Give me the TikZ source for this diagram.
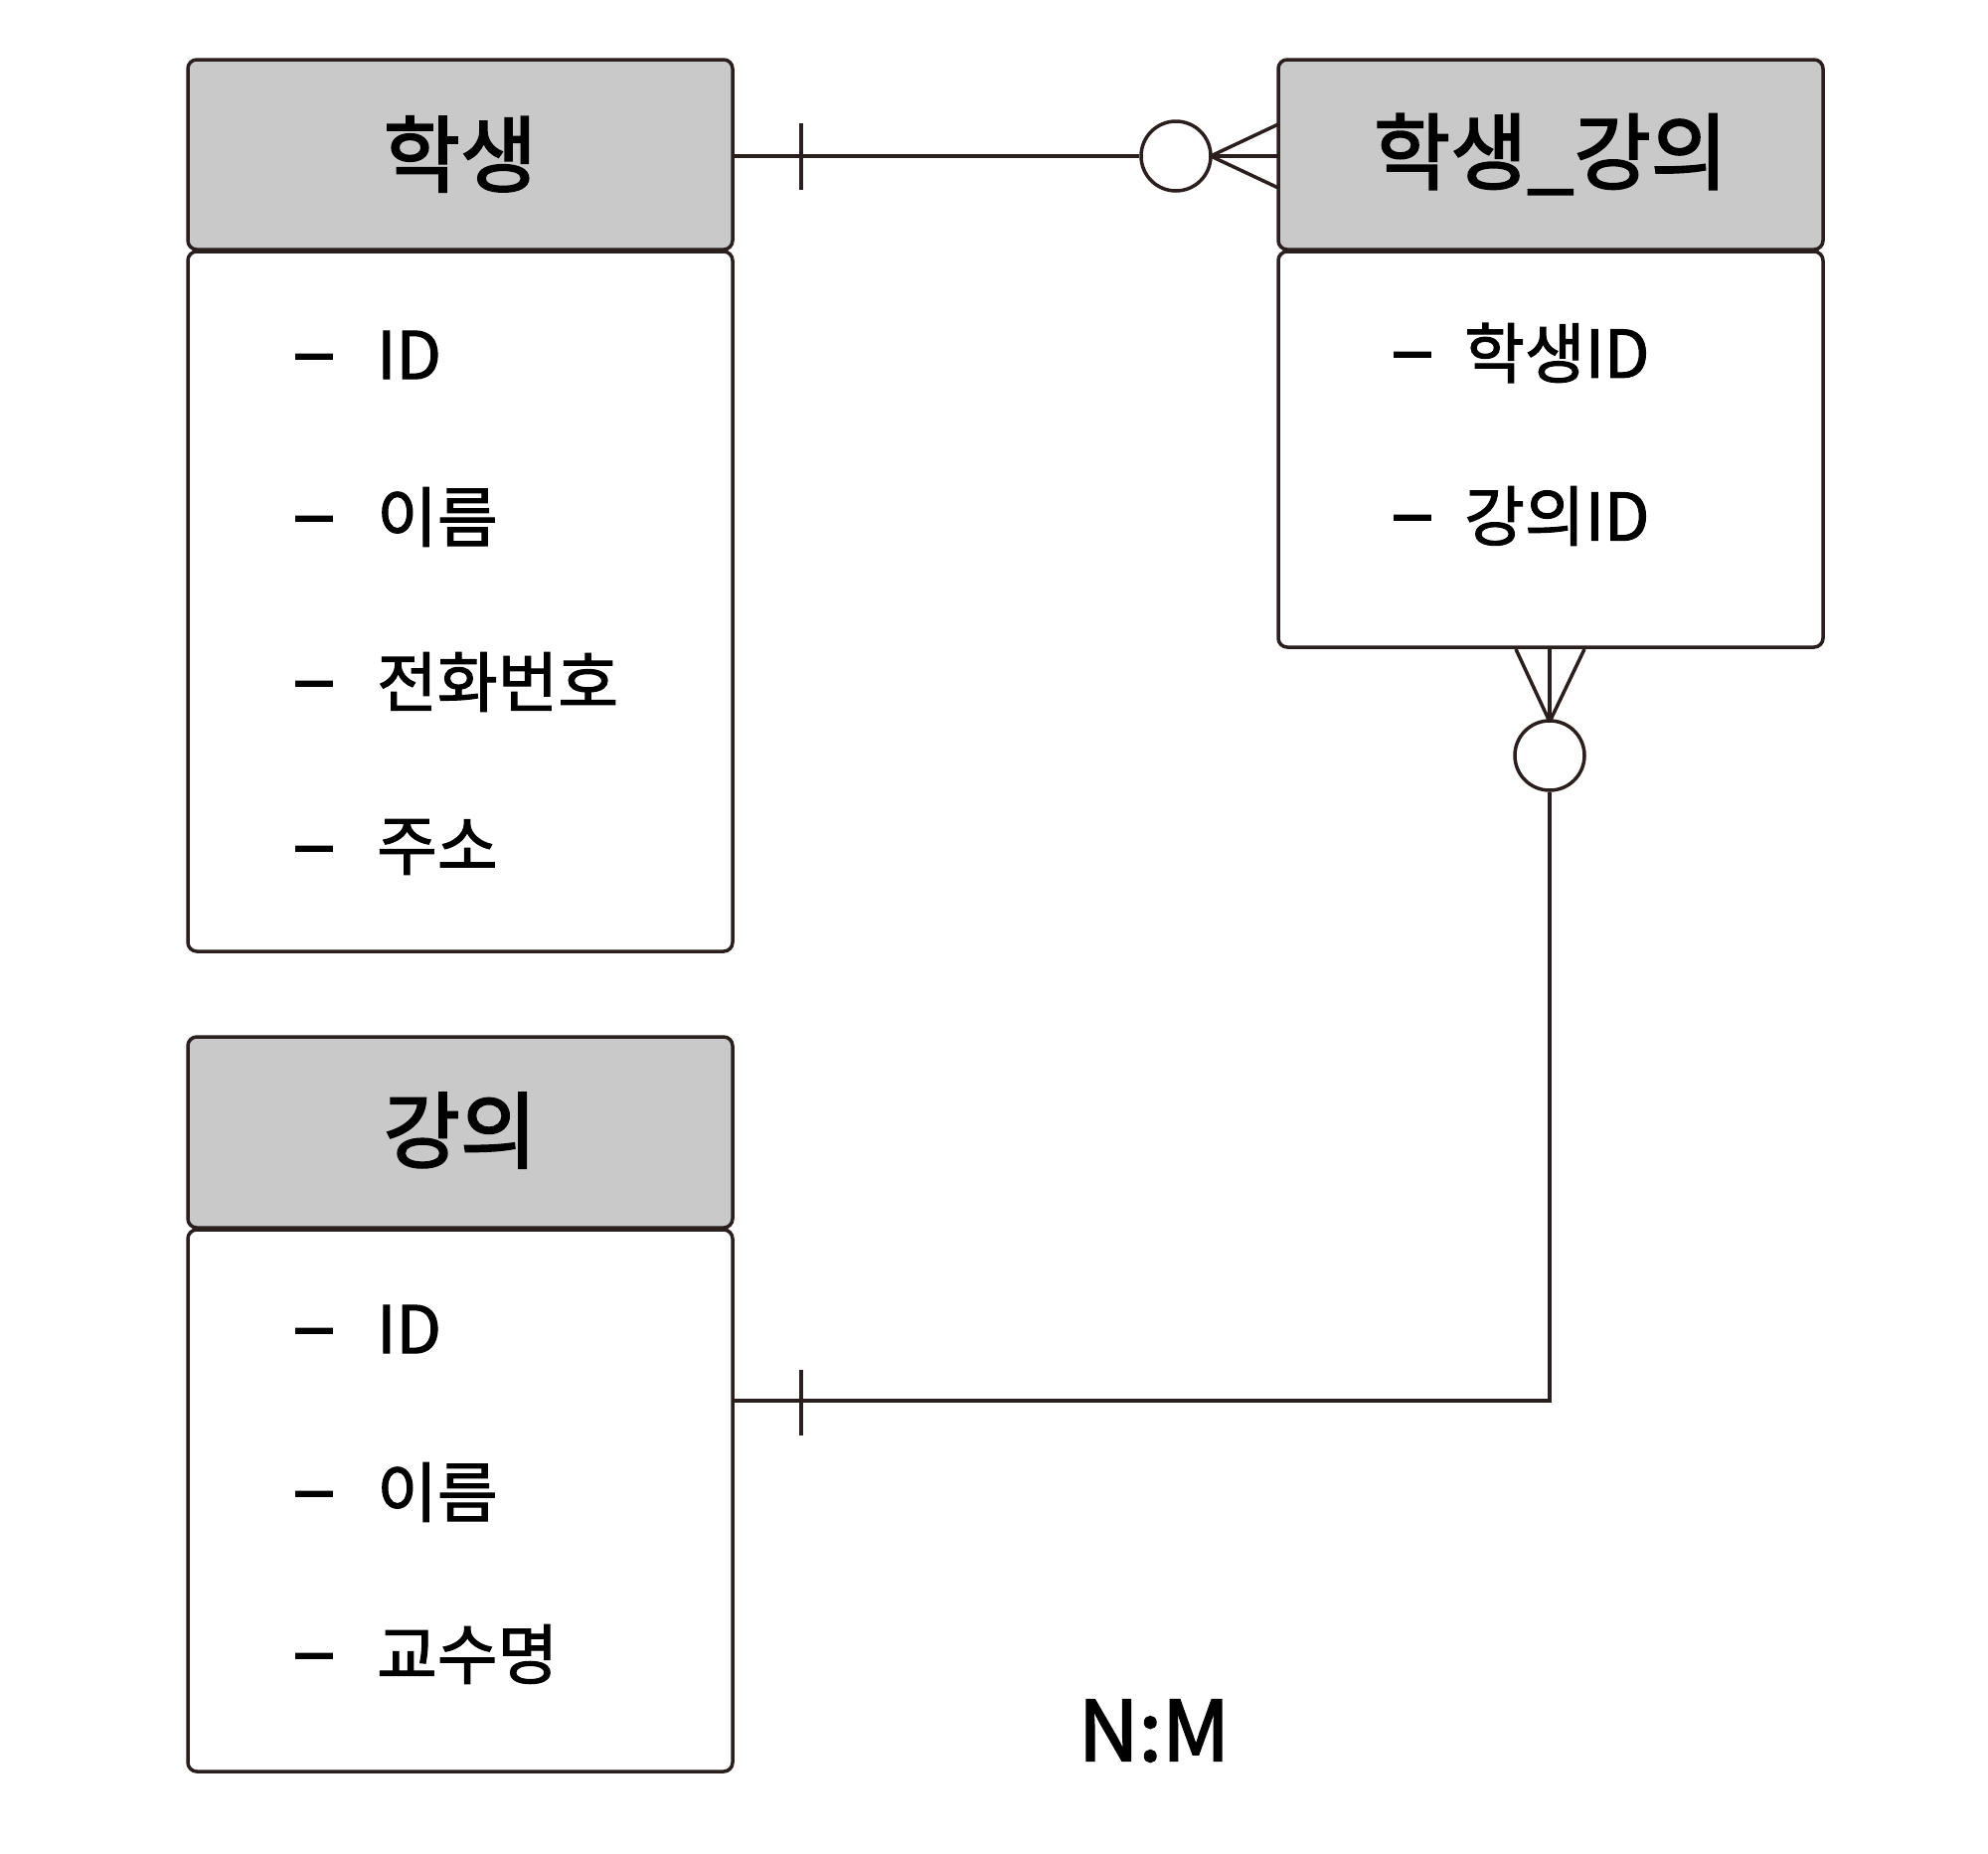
\documentclass[tikz,border=0pt]{standalone}
\usepackage{fontspec}
\newfontfamily\kr[FakeBold=1.6]{Noto Sans CJK KR}
\newfontfamily\krh[FakeBold=2.2]{Noto Sans CJK KR}
\definecolor{ink}{HTML}{2A1F1D}
\definecolor{hdr}{HTML}{C9C9C9}
\tikzset{
  headbox/.style={draw=ink, line width=3.5pt, fill=hdr, rounded corners=9pt},
  bodybox/.style={draw=ink, line width=3.5pt, fill=white, rounded corners=9pt},
  headtxt/.style={font=\krh\fontsize{84}{90}\selectfont, text=black, inner sep=0pt},
  attr/.style={font=\kr\fontsize{66}{72}\selectfont, text=black, anchor=west, inner sep=0pt},
  dashmark/.style={font=\kr\fontsize{82}{90}\selectfont, text=black, inner sep=0pt},
  conn/.style={draw=ink, line width=3.5pt},
}
\begin{document}
\begin{tikzpicture}[x=1pt,y=-1pt]
\useasboundingbox (0,0) rectangle (2000,1864);
% entity: 학생
\draw[headbox] (189,60) rectangle (737,251);
\draw[bodybox] (189,253) rectangle (737,957);
\node[headtxt] (sH) at (463,155) {학생};
\node[dashmark] (sd1) at (316,369) {–};
\node[attr] (s1) at (379,357) {ID};
\node[dashmark] (sd2) at (316,532) {–};
\node[attr] (s2) at (379,520) {이름};
\node[dashmark] (sd3) at (316,698) {–};
\node[attr] (s3) at (379,686) {전화번호};
\node[dashmark] (sd4) at (316,864) {–};
\node[attr] (s4) at (379,852) {주소};
\coordinate (sR) at (737,157);
% entity: 학생_강의
\draw[headbox] (1286,60) rectangle (1834,251);
\draw[bodybox] (1286,253) rectangle (1834,651);
\node[headtxt] (jH) at (1560,155) {학생\_강의};
\node[dashmark] (jd1) at (1421,367) {–};
\node[attr] (j1) at (1473,355) {학생ID};
\node[dashmark] (jd2) at (1421,531) {–};
\node[attr] (j2) at (1473,519) {강의ID};
\coordinate (jL) at (1286,157);
\coordinate (jB) at (1559,651);
% entity: 강의
\draw[headbox] (189,1043) rectangle (737,1235);
\draw[bodybox] (189,1237) rectangle (737,1782);
\node[headtxt] (cH) at (463,1137) {강의};
\node[dashmark] (cd1) at (316,1349) {–};
\node[attr] (c1) at (379,1337) {ID};
\node[dashmark] (cd2) at (316,1513) {–};
\node[attr] (c2) at (379,1501) {이름};
\node[dashmark] (cd3) at (316,1676) {–};
\node[attr] (c3) at (379,1664) {교수명};
\coordinate (cR) at (737,1409);
\coordinate (corner) at (1559,1409);
% relationship 학생 -> 학생_강의
\node[circle, conn, minimum size=70pt, inner sep=0pt] (o1) at (1183,157) {};
\draw[conn] (sR) -- (o1.west);
\draw[conn] (806,124) -- (806,191);
\coordinate (a1) at (1218,157);
\draw[conn] (a1) -- (jL);
\draw[conn] (a1) -- (1286,125);
\draw[conn] (a1) -- (1286,189);
% relationship 강의 -> 학생_강의
\node[circle, conn, minimum size=70pt, inner sep=0pt] (o2) at (1559,760) {};
\coordinate (a2) at (1559,726);
\draw[conn] (a2) -- (jB);
\draw[conn] (a2) -- (1525,653);
\draw[conn] (a2) -- (1594,653);
\draw[conn] (o2.south) -- (corner) -- (cR);
\draw[conn] (806,1378) -- (806,1444);
% label
\node[font=\krh\fontsize{84}{90}\selectfont, inner sep=0pt] (nm) at (1161,1741) {N:M};
\end{tikzpicture}
\end{document}
